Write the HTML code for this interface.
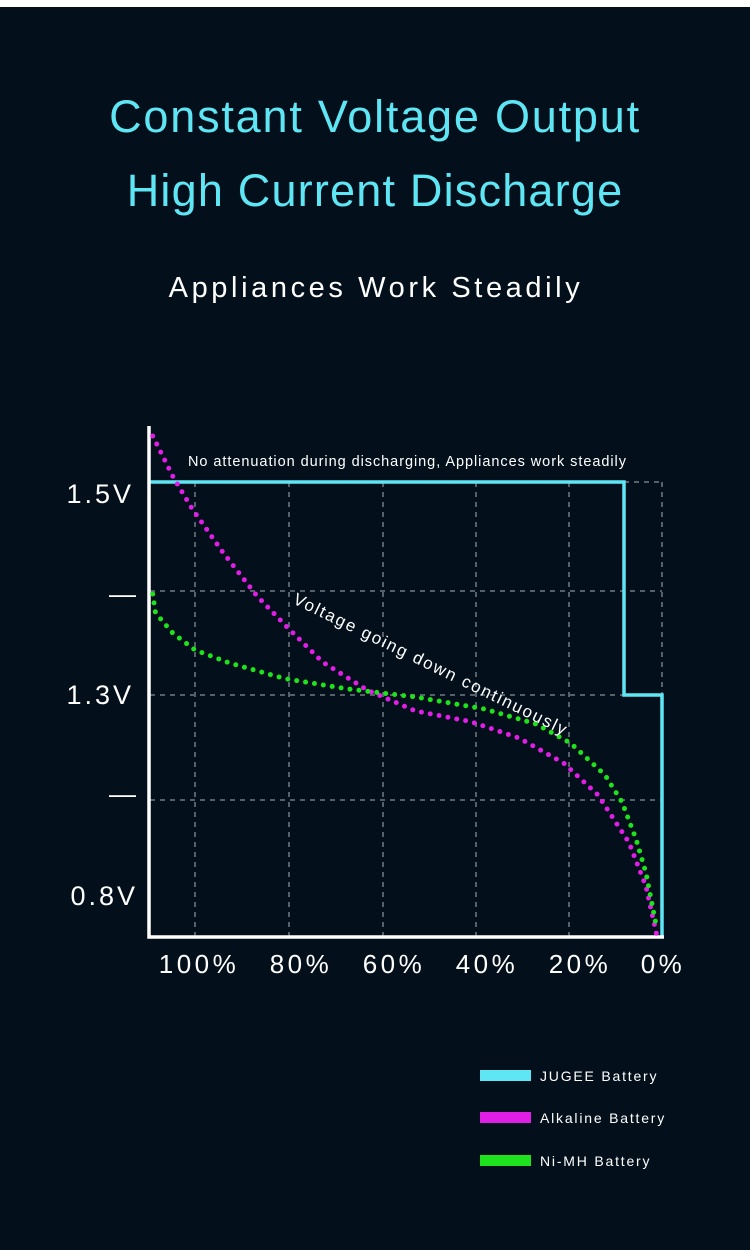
<!DOCTYPE html>
<html><head><meta charset="utf-8"><style>
html,body{margin:0;padding:0;background:#fff}
body{width:750px;height:1250px;overflow:hidden;position:relative;font-family:"Liberation Sans",sans-serif}
</style></head><body>
<svg width="750" height="1250" viewBox="0 0 750 1250" xmlns="http://www.w3.org/2000/svg" style="position:absolute;left:0;top:0">
<rect x="0" y="7" width="750" height="1243" fill="#03101b"/>
<g font-family="Liberation Sans, sans-serif" text-anchor="middle">
<text x="375" y="132" font-size="45" fill="#5fe6f4" letter-spacing="1.8">Constant Voltage Output</text>
<text x="375" y="206" font-size="45" fill="#5fe6f4" letter-spacing="1.2">High Current Discharge</text>
<text x="376" y="297" font-size="29" fill="#ffffff" letter-spacing="3.6">Appliances Work Steadily</text>
</g>
<g stroke="#55606a" stroke-width="2" stroke-dasharray="5 5" fill="none">
<line x1="150" y1="591" x2="662" y2="591"/>
<line x1="150" y1="695" x2="624" y2="695"/>
<line x1="150" y1="800" x2="662" y2="800"/>
<line x1="624" y1="482" x2="662" y2="482"/>
<line x1="195" y1="482" x2="195" y2="937"/>
<line x1="289" y1="482" x2="289" y2="937"/>
<line x1="383" y1="482" x2="383" y2="937"/>
<line x1="476" y1="482" x2="476" y2="937"/>
<line x1="569" y1="482" x2="569" y2="937"/>
<line x1="662" y1="482" x2="662" y2="695"/>
</g>
<polyline points="150,482 624,482 624,695 662,695 662,937" fill="none" stroke="#5fe6f4" stroke-width="3.5"/>
<polyline points="149,426 149,937 664,937" fill="none" stroke="#ffffff" stroke-width="3.5"/>
<path d="M152.7,436 L173.4,477.5 L191.7,508 L222.6,552 L257,596 L288,628 L322.5,662 L367,690 L415.5,711 L470.6,721.6 L518.8,738 L563.6,763 L598,795 L629,842.6 L646,886.5 L656.5,934" fill="none" stroke="#e01ee6" stroke-width="5" stroke-linecap="round" stroke-linejoin="round" stroke-dasharray="0 9"/>
<path d="M152.7,594 L155.5,613 L172.7,633 L195,650 L229.5,663 L284.6,678.6 L346.6,688.8 L415.5,697 L484.4,709 L536,724 L570.4,743 L605,775 L622,802 L636,839 L646,873 L656.5,927" fill="none" stroke="#1fe21f" stroke-width="5" stroke-linecap="round" stroke-linejoin="round" stroke-dasharray="0 9"/>
<text x="188" y="466" font-size="14.5" fill="#ffffff" font-family="Liberation Sans, sans-serif" letter-spacing="0.95">No attenuation during discharging, Appliances work steadily</text>
<text x="0" y="0" font-size="17" fill="#ffffff" font-family="Liberation Sans, sans-serif" letter-spacing="1.8" transform="translate(292,603) rotate(26)">Voltage going down continuously</text>
<g font-family="Liberation Sans, sans-serif" fill="#ffffff" font-size="27" text-anchor="end" letter-spacing="3">
<text x="134" y="503">1.5V</text>
<text x="139" y="603">—</text>
<text x="134" y="704">1.3V</text>
<text x="139" y="803">—</text>
<text x="138" y="905">0.8V</text>
</g>
<g font-family="Liberation Sans, sans-serif" fill="#ffffff" font-size="26" text-anchor="middle" letter-spacing="3.5">
<text x="199" y="973">100%</text>
<text x="301" y="973">80%</text>
<text x="394" y="973">60%</text>
<text x="487" y="973">40%</text>
<text x="580" y="973">20%</text>
<text x="663" y="973">0%</text>
</g>
<rect x="480" y="1070" width="51" height="11" fill="#5fe6f4"/>
<rect x="480" y="1112" width="51" height="11" fill="#e01ee6"/>
<rect x="480" y="1155" width="51" height="11" fill="#1fe21f"/>
<g font-family="Liberation Sans, sans-serif" fill="#ffffff" font-size="14" letter-spacing="1.8">
<text x="540" y="1081">JUGEE Battery</text>
<text x="540" y="1123">Alkaline Battery</text>
<text x="540" y="1166">Ni-MH Battery</text>
</g>
</svg>
</body></html>
